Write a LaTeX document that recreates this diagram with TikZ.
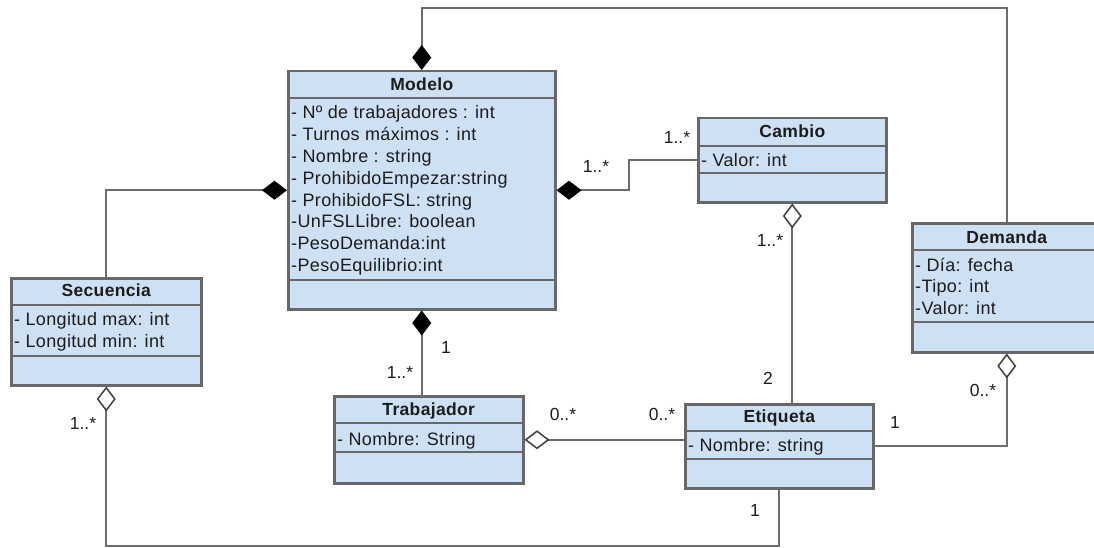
\documentclass[tikz,border=0pt]{standalone}
\usepackage{fontspec}
\setmainfont{Liberation Sans}
\usetikzlibrary{arrows.meta}

\definecolor{clasefondo}{RGB}{206,224,243}
\definecolor{claseborde}{RGB}{104,104,104}
\definecolor{linea}{RGB}{108,108,108}
\definecolor{texto}{RGB}{28,28,28}

\tikzset{
  clase/.style={draw=claseborde, line width=2.5pt, fill=clasefondo, inner sep=0pt, anchor=north west},
  divisor/.style={draw=claseborde, line width=2.5pt},
  titulo/.style={font=\bfseries\fontsize{17.5}{22}\selectfont\addfontfeature{LetterSpace=2}, text=texto, inner sep=0pt, text height=12.5pt, text depth=0pt},
  atrib/.style={font=\fontsize{18}{22}\selectfont\addfontfeature{LetterSpace=2}, text=texto, inner sep=0pt, anchor=west, text height=12.8pt, text depth=0pt},
  mult/.style={font=\fontsize{17.5}{22}\selectfont, text=texto, inner sep=0pt, text height=12.5pt, text depth=0pt},
  compo/.style={draw=linea, line width=2pt, {Diamond[length=25pt, width=19pt, color=black, fill=black]}-},
  agreg/.style={draw=linea, line width=2pt, {Diamond[length=25pt, width=19pt, color=darkgray, fill=white, line width=1.5pt]}-},
}

\begin{document}
\begin{tikzpicture}[x=1pt, y=-1pt]
  \useasboundingbox (0,0) rectangle (1094,548);
  \clip (0,0) rectangle (1094,548);

  % clases
  \node[clase, minimum width=267pt, minimum height=238pt] (modelo) at (287,70) {};
  \node[clase, minimum width=188pt, minimum height=84pt] (cambio) at (697,117) {};
  \node[clase, minimum width=189pt, minimum height=129pt] (demanda) at (911,222) {};
  \node[clase, minimum width=190pt, minimum height=107pt] (secuencia) at (10,277) {};
  \node[clase, minimum width=189pt, minimum height=87pt] (trabajador) at (333,395) {};
  \node[clase, minimum width=188pt, minimum height=84pt] (etiqueta) at (684,403) {};

  \foreach \c/\ya/\yb in {modelo/98/280, cambio/146/173, demanda/250/322,
                          secuencia/305/356, trabajador/423/452, etiqueta/431/459} {
    \draw[divisor] (\c.west |- 0,\ya) -- (\c.east |- 0,\ya);
    \draw[divisor] (\c.west |- 0,\yb) -- (\c.east |- 0,\yb);
  }

  \foreach \c/\t/\y in {modelo/Modelo/84, cambio/Cambio/131, demanda/Demanda/237,
                        secuencia/Secuencia/290, trabajador/Trabajador/409, etiqueta/Etiqueta/416} {
    \node[titulo] (\c-t) at (\c.north |- 0,\y) {\t};
  }

  % atributos
  \foreach \a [count=\i] in {- Nº de trabajadores : int, - Turnos máximos : int, - Nombre : string,
                             - ProhibidoEmpezar:string, - ProhibidoFSL: string, -UnFSLLibre: boolean,
                             -PesoDemanda:int, -PesoEquilibrio:int} {
    \node[atrib] (modelo-a\i) at (291, {112+21.9*(\i-1)}) {\a};
  }
  \node[atrib] (cambio-a1) at (701,160) {- Valor: int};
  \foreach \a [count=\i] in {- Día: fecha, -Tipo: int, -Valor: int} {
    \node[atrib] (demanda-a\i) at (915, {265+21.5*(\i-1)}) {\a};
  }
  \foreach \a [count=\i] in {- Longitud max: int, - Longitud min: int} {
    \node[atrib] (secuencia-a\i) at (14, {319+22*(\i-1)}) {\a};
  }
  \node[atrib] (trabajador-a1) at (337,439) {- Nombre: String};
  \node[atrib] (etiqueta-a1) at (688,445) {- Nombre: string};

  % relaciones
  \draw[compo] (modelo.north) -- (modelo.north |- 0,8) -| (demanda.north);
  \draw[compo] (modelo.west) -| (secuencia.north);
  \draw[compo] (modelo.east) -- ++(72,0) |- (cambio.west);
  \draw[compo] (modelo.south) -- (modelo.south |- trabajador.north);
  \draw[agreg] (cambio.south) -- (cambio.south |- etiqueta.north);
  \draw[agreg] (demanda.south) |- (etiqueta.east);
  \draw[agreg] (trabajador.east) -- (trabajador.east -| etiqueta.west);
  \draw[agreg] (secuencia.south) -- (secuencia.south |- 0,546) -| (etiqueta.south);

  % multiplicidades
  \node[mult] (m-mc1) at (596,166) {1..*};
  \node[mult] (m-mc2) at (677,137) {1..*};
  \node[mult] (m-mt1) at (446,347) {1};
  \node[mult] (m-mt2) at (400,372) {1..*};
  \node[mult] (m-ce1) at (770,240) {1..*};
  \node[mult] (m-ce2) at (768,378) {2};
  \node[mult] (m-de1) at (983,390) {0..*};
  \node[mult] (m-de2) at (895,422) {1};
  \node[mult] (m-te1) at (563,414) {0..*};
  \node[mult] (m-te2) at (662,414) {0..*};
  \node[mult] (m-se1) at (83,423) {1..*};
  \node[mult] (m-se2) at (755,510) {1};
\end{tikzpicture}
\end{document}
